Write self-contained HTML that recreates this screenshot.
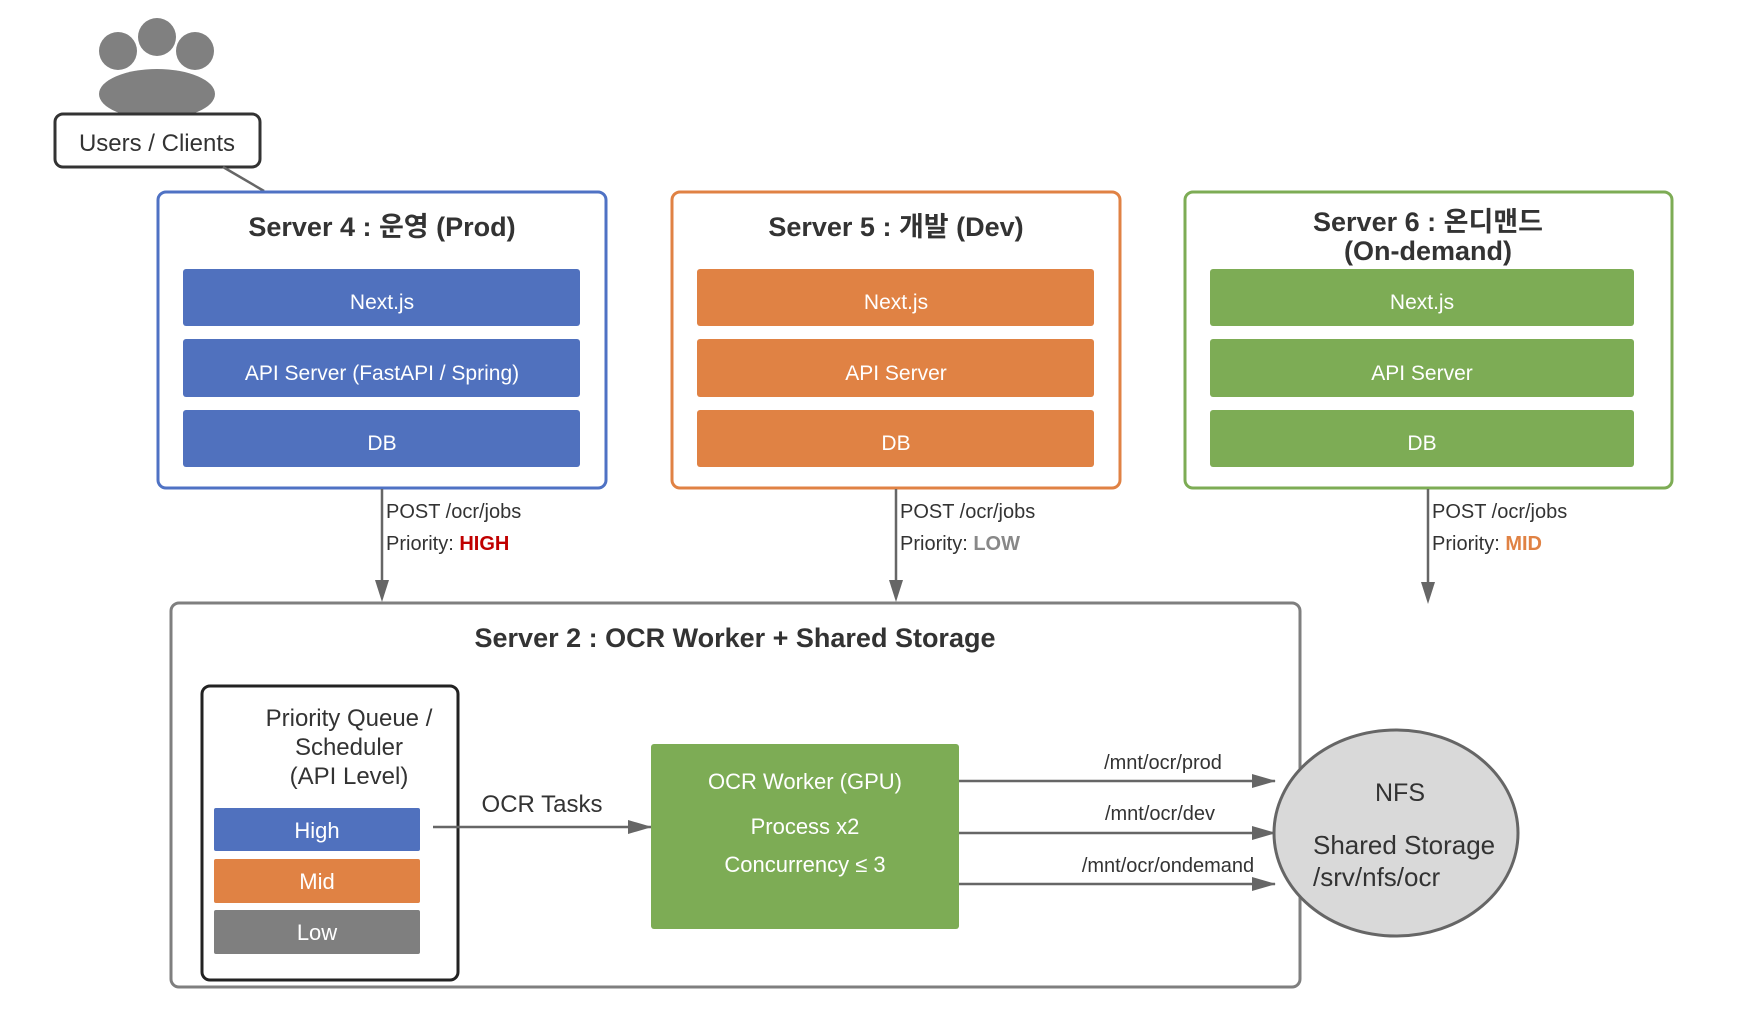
<!DOCTYPE html>
<html><head><meta charset="utf-8"><style>
html,body{margin:0;padding:0;background:#fff}
svg{display:block}
text{font-family:"Liberation Sans","Noto Sans CJK KR",sans-serif}
</style></head><body>
<svg width="1752" height="1026" viewBox="0 0 1752 1026" xmlns="http://www.w3.org/2000/svg">
<defs>
<marker id="ar" markerWidth="24" markerHeight="14" refX="23" refY="7" orient="auto" markerUnits="userSpaceOnUse">
<path d="M0,0 L24,7 L0,14 z" fill="#666"/></marker>
</defs>

<!-- users icon -->
<ellipse cx="118" cy="51" rx="19" ry="19" fill="#808080"/>
<ellipse cx="157" cy="37" rx="19" ry="19" fill="#808080"/>
<ellipse cx="195" cy="51" rx="19" ry="19" fill="#808080"/>
<ellipse cx="157" cy="94" rx="58" ry="25" fill="#808080"/>
<rect x="55" y="114" width="205" height="53" rx="8" fill="#fff" stroke="#333" stroke-width="3"/>
<text x="157" y="151" font-size="24" text-anchor="middle" fill="#333">Users / Clients</text>
<line x1="223" y1="167" x2="264" y2="191" stroke="#666" stroke-width="2.5"/>

<!-- Server 4 -->
<rect x="158" y="192" width="448" height="296" rx="8" fill="#fff" stroke="#4f72c4" stroke-width="3"/>
<text x="382" y="236" font-size="27" font-weight="bold" text-anchor="middle" fill="#333">Server 4 : 운영 (Prod)</text>
<rect x="183" y="269" width="397" height="57" rx="3" fill="#5071be"/>
<rect x="183" y="339" width="397" height="58" rx="3" fill="#5071be"/>
<rect x="183" y="410" width="397" height="57" rx="3" fill="#5071be"/>
<text x="382" y="309" font-size="21" text-anchor="middle" fill="#fff">Next.js</text>
<text x="382" y="380" font-size="21" text-anchor="middle" fill="#fff">API Server (FastAPI / Spring)</text>
<text x="382" y="450" font-size="21" text-anchor="middle" fill="#fff">DB</text>

<!-- Server 5 -->
<rect x="672" y="192" width="448" height="296" rx="8" fill="#fff" stroke="#e08244" stroke-width="3"/>
<text x="896" y="236" font-size="27" font-weight="bold" text-anchor="middle" fill="#333">Server 5 : 개발 (Dev)</text>
<rect x="697" y="269" width="397" height="57" rx="3" fill="#e08244"/>
<rect x="697" y="339" width="397" height="58" rx="3" fill="#e08244"/>
<rect x="697" y="410" width="397" height="57" rx="3" fill="#e08244"/>
<text x="896" y="309" font-size="21" text-anchor="middle" fill="#fff">Next.js</text>
<text x="896" y="380" font-size="21" text-anchor="middle" fill="#fff">API Server</text>
<text x="896" y="450" font-size="21" text-anchor="middle" fill="#fff">DB</text>

<!-- Server 6 -->
<rect x="1185" y="192" width="487" height="296" rx="8" fill="#fff" stroke="#7dac55" stroke-width="3"/>
<text x="1428" y="231" font-size="27" font-weight="bold" text-anchor="middle" fill="#333">Server 6 : 온디맨드</text>
<text x="1428" y="260" font-size="27" font-weight="bold" text-anchor="middle" fill="#333">(On-demand)</text>
<rect x="1210" y="269" width="424" height="57" rx="3" fill="#7dac55"/>
<rect x="1210" y="339" width="424" height="58" rx="3" fill="#7dac55"/>
<rect x="1210" y="410" width="424" height="57" rx="3" fill="#7dac55"/>
<text x="1422" y="309" font-size="21" text-anchor="middle" fill="#fff">Next.js</text>
<text x="1422" y="380" font-size="21" text-anchor="middle" fill="#fff">API Server</text>
<text x="1422" y="450" font-size="21" text-anchor="middle" fill="#fff">DB</text>

<!-- vertical arrows -->
<line x1="382" y1="489" x2="382" y2="585" stroke="#666" stroke-width="2.5"/>
<polygon points="375,580 389,580 382,602" fill="#666"/>
<line x1="896" y1="489" x2="896" y2="585" stroke="#666" stroke-width="2.5"/>
<polygon points="889,580 903,580 896,602" fill="#666"/>
<line x1="1428" y1="489" x2="1428" y2="587" stroke="#666" stroke-width="2.5"/>
<polygon points="1421,582 1435,582 1428,604" fill="#666"/>
<g font-size="20" fill="#333">
<text x="386" y="518">POST /ocr/jobs</text>
<text x="386" y="550">Priority: <tspan fill="#c00000" font-weight="bold">HIGH</tspan></text>
<text x="900" y="518">POST /ocr/jobs</text>
<text x="900" y="550">Priority: <tspan fill="#888" font-weight="bold">LOW</tspan></text>
<text x="1432" y="518">POST /ocr/jobs</text>
<text x="1432" y="550">Priority: <tspan fill="#e08244" font-weight="bold">MID</tspan></text>
</g>

<!-- Server 2 -->
<rect x="171" y="603" width="1129" height="384" rx="8" fill="#fff" stroke="#7f7f7f" stroke-width="3"/>
<text x="735" y="647" font-size="27" font-weight="bold" text-anchor="middle" fill="#333">Server 2 : OCR Worker + Shared Storage</text>

<!-- PQ -->
<rect x="202" y="686" width="256" height="294" rx="8" fill="#fff" stroke="#222" stroke-width="3"/>
<g font-size="24" fill="#333" text-anchor="middle">
<text x="349" y="726">Priority Queue /</text>
<text x="349" y="755">Scheduler</text>
<text x="349" y="784">(API Level)</text>
</g>
<rect x="214" y="808" width="206" height="43" rx="2" fill="#5071be"/>
<rect x="214" y="859" width="206" height="44" rx="2" fill="#e08244"/>
<rect x="214" y="910" width="206" height="44" rx="2" fill="#7f7f7f"/>
<g font-size="22" fill="#fff" text-anchor="middle">
<text x="317" y="838">High</text>
<text x="317" y="889">Mid</text>
<text x="317" y="940">Low</text>
</g>

<line x1="433" y1="827" x2="651" y2="827" stroke="#666" stroke-width="2.5" marker-end="url(#ar)"/>
<text x="542" y="812" font-size="24" text-anchor="middle" fill="#333">OCR Tasks</text>

<rect x="651" y="744" width="308" height="185" rx="3" fill="#7dac55"/>
<g font-size="22" fill="#fff" text-anchor="middle">
<text x="805" y="789">OCR Worker (GPU)</text>
<text x="805" y="834">Process x2</text>
<text x="805" y="872">Concurrency ≤ 3</text>
</g>

<line x1="959" y1="781" x2="1275" y2="781" stroke="#666" stroke-width="2.5" marker-end="url(#ar)"/>
<line x1="959" y1="833" x2="1275" y2="833" stroke="#666" stroke-width="2.5" marker-end="url(#ar)"/>
<line x1="959" y1="884" x2="1275" y2="884" stroke="#666" stroke-width="2.5" marker-end="url(#ar)"/>
<g font-size="20" fill="#333" text-anchor="middle">
<text x="1163" y="769">/mnt/ocr/prod</text>
<text x="1160" y="820">/mnt/ocr/dev</text>
<text x="1168" y="872">/mnt/ocr/ondemand</text>
</g>

<ellipse cx="1396" cy="833" rx="122" ry="103" fill="#d9d9d9" stroke="#666" stroke-width="3"/>
<text x="1400" y="801" font-size="25" text-anchor="middle" fill="#333">NFS</text>
<text x="1313" y="854" font-size="26" fill="#333">Shared Storage</text>
<text x="1313" y="886" font-size="26" fill="#333">/srv/nfs/ocr</text>
</svg>
</body></html>
